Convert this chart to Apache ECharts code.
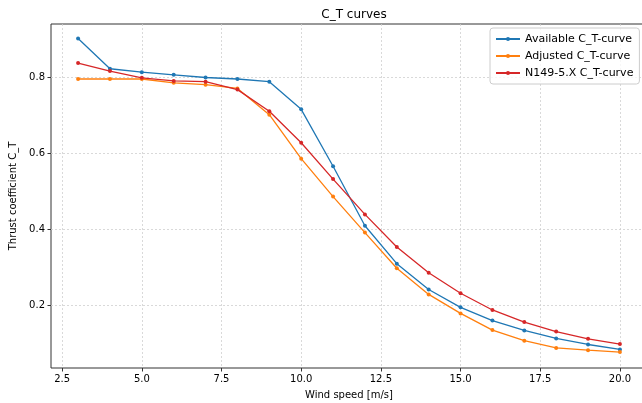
<!DOCTYPE html>
<html><head><meta charset="utf-8">
<script src="https://cdn.jsdelivr.net/npm/echarts@6/dist/echarts.min.js"></script>
<style>html,body{margin:0;padding:0;background:#fff}#c{width:642px;height:403px}</style>
</head><body><div id="c"></div>
<script>
const windSpeed = [3,4,5,6,7,8,9,10,11,12,13,14,15,16,17,18,19,20];
const availableCT = [0.903,0.823,0.814,0.807,0.800,0.796,0.789,0.716,0.566,0.409,0.309,0.241,0.194,0.159,0.133,0.112,0.096,0.083];
const adjustedCT = [0.796,0.796,0.796,0.786,0.781,0.771,0.702,0.586,0.486,0.391,0.297,0.228,0.178,0.134,0.106,0.087,0.081,0.076];
const n149CT = [0.838,0.817,0.799,0.791,0.789,0.768,0.711,0.628,0.532,0.439,0.353,0.285,0.231,0.187,0.155,0.130,0.111,0.097];
const xTicks = [2.5,5,7.5,10,12.5,15,17.5,20];
const yTicks = [0.2,0.4,0.6,0.8];
const seriesNames = ['Available C_T-curve','Adjusted C_T-curve','N149-5.X C_T-curve'];
const colors = ['#1f77b4','#ff7f0e','#d62728'];
const FONT = 'DejaVu Sans';

const chart = echarts.init(document.getElementById('c'), null, {renderer:'canvas'});
const mk = (name, vals, color) => ({
  name, type:'line', data: windSpeed.map((x,i)=>[x, vals[i]]),
  color, symbol:'circle', symbolSize:4, showSymbol:true,
  lineStyle:{width:1.3, color}, itemStyle:{color}, animation:false
});
chart.setOption({
  animation:false,
  title:{text:'C_T curves', left:349, textAlign:'center', top:4,
    textStyle:{fontFamily:FONT, fontSize:12, fontWeight:'normal', color:'#000'}},
  legend:{orient:'vertical', left:490, top:28, padding:[4,6,4,5], itemGap:3,
    itemWidth:24, itemHeight:5, borderColor:'#ccc', borderWidth:1, borderRadius:3,
    backgroundColor:'rgba(255,255,255,0.8)',
    textStyle:{fontFamily:FONT, fontSize:11, color:'#000', lineHeight:14}, data: seriesNames},
  grid:{left:51, width:596, top:24, height:344, show:true, borderColor:'#333', borderWidth:1,
    containLabel:false, outerBoundsMode:'none'},
  xAxis:{type:'value', min:2.15, max:20.85,
    name:'Wind speed [m/s]', nameLocation:'middle', nameGap:22,
    nameTextStyle:{fontFamily:FONT, fontSize:10, color:'#000'},
    axisLine:{show:false},
    axisTick:{show:true, length:3.5, inside:false, customValues:xTicks, lineStyle:{color:'#333'}},
    axisLabel:{customValues:xTicks, fontFamily:FONT, fontSize:10, color:'#000', margin:6,
      formatter:v=>v.toFixed(1)},
    splitLine:{show:true, lineStyle:{color:'#d0d0d0', type:[2,2], width:0.8}}},
  yAxis:{type:'value', min:0.034, max:0.941,
    name:'Thrust coefficient C_T', nameLocation:'middle', nameGap:33,
    nameTextStyle:{fontFamily:FONT, fontSize:10, color:'#000'},
    axisLine:{show:false},
    axisTick:{show:true, length:3.5, customValues:yTicks, lineStyle:{color:'#333'}},
    axisLabel:{customValues:yTicks, fontFamily:FONT, fontSize:10, color:'#000', margin:6,
      formatter:v=>v.toFixed(1)},
    splitLine:{show:true, lineStyle:{color:'#d0d0d0', type:[2,2], width:0.8}}},
  series:[mk(seriesNames[0], availableCT, colors[0]), mk(seriesNames[1], adjustedCT, colors[1]), mk(seriesNames[2], n149CT, colors[2])]
});
</script></body></html>
